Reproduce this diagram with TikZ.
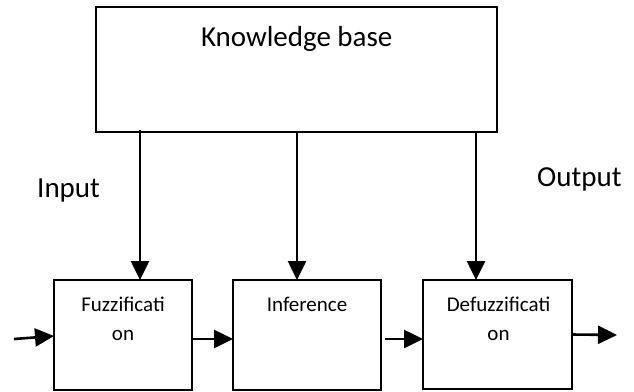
\documentclass[tikz,border=0pt]{standalone}
\usepackage{fontspec}
\setmainfont{Carlito}
\usetikzlibrary{arrows.meta,calc}
\begin{document}
\begin{tikzpicture}[x=1pt,y=-1pt,
  box/.style={draw, line width=1.5pt, inner sep=0pt, outer sep=0pt},
  arr/.style={line width=2.6pt, -{Triangle[length=19pt,width=18pt]}},
  big/.style={font=\fontsize{29}{35}\selectfont, inner sep=0pt},
  small/.style={font=\fontsize{21}{29}\selectfont, inner sep=0pt, align=center, anchor=north}]
\useasboundingbox (0,0) rectangle (634,391);
% boxes
\node[box, minimum width=401pt, minimum height=125pt] (kb) at (296.5,69.5) {};
\node[box, minimum width=138pt, minimum height=110pt] (fuzz) at (123,335) {};
\node[box, minimum width=148pt, minimum height=110pt] (inf) at (307,335) {};
\node[box, minimum width=149pt, minimum height=109pt] (def) at (497.5,334.5) {};
% texts
\node[big, anchor=base] (kbt) at (296.7,46) {Knowledge base};
\node[small] (fuzzt) at (123,296.5) {Fuzzificati\\on};
\node[small] (inft) at (307,296.5) {Inference};
\node[small] (deft) at (498.5,296.5) {Defuzzificati\\on};
\node[big, anchor=base west] (inl) at (37,197) {Input};
\node[big, anchor=base west] (outl) at (537,186) {Output};
% vertical connectors
\coordinate (k1) at ($(kb.south west)+(44,-2)$);
\coordinate (k2) at ($(kb.south west)+(201,0)$);
\coordinate (k3) at ($(kb.south west)+(380,0)$);
\draw[arr] (k1) -- (k1 |- fuzz.north);
\draw[arr] (k2) -- (k2 |- inf.north);
\draw[arr] (k3) -- (k3 |- def.north);
% horizontal connectors
\coordinate (inp) at (14,339);
\coordinate (outp) at (617,335);
\draw[arr] (inp) -- ([yshift=-1pt]fuzz.west);
\draw[arr] ([yshift=-4pt]fuzz.east) -- ([yshift=-4pt]inf.west);
\draw[arr] ([xshift=4pt,yshift=-4pt]inf.east) -- ([yshift=-4.5pt]def.west);
\draw[arr] (def.east) -- (outp);
\end{tikzpicture}
\end{document}
